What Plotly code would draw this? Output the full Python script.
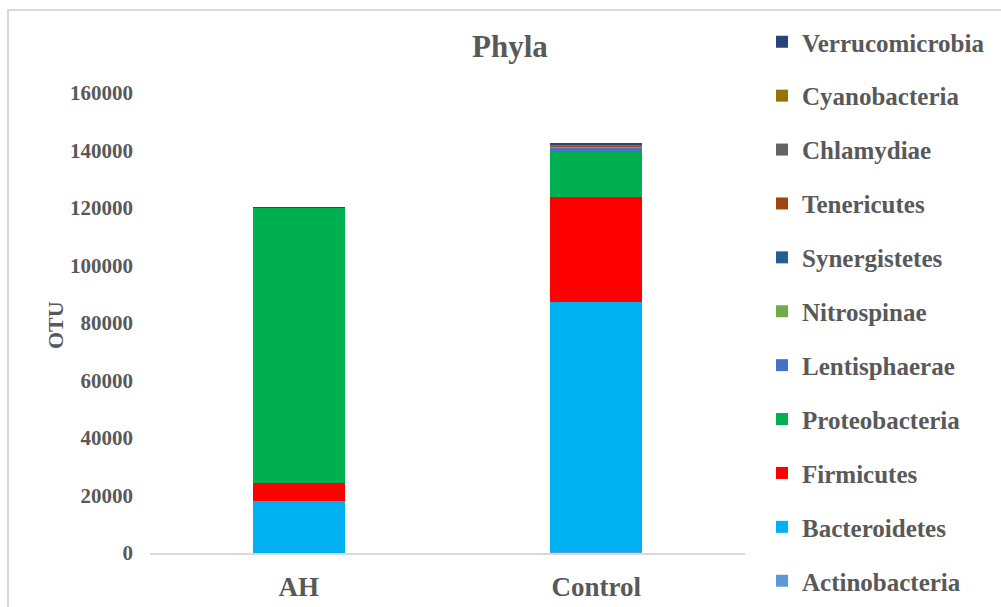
import plotly.graph_objects as go

# Sample groups on the x axis
groups = ["AH", "Control"]

# Phyla stacked from the bottom of each bar upwards
phyla = [
    "Actinobacteria", "Bacteroidetes", "Firmicutes", "Proteobacteria",
    "Lentisphaerae", "Nitrospinae", "Synergistetes", "Tenericutes",
    "Chlamydiae", "Cyanobacteria", "Verrucomicrobia",
]

# OTU counts per phylum: [AH, Control]
actinobacteria = [150, 500]
bacteroidetes = [18050, 86800]
firmicutes = [6300, 36500]
proteobacteria = [95500, 15700]
lentisphaerae = [60, 1600]
nitrospinae = [10, 150]
synergistetes = [20, 300]
tenericutes = [10, 150]
chlamydiae = [10, 200]
cyanobacteria = [10, 100]
verrucomicrobia = [20, 500]

values = [
    actinobacteria, bacteroidetes, firmicutes, proteobacteria,
    lentisphaerae, nitrospinae, synergistetes, tenericutes,
    chlamydiae, cyanobacteria, verrucomicrobia,
]

colors = [
    "#5B9BD5", "#00B0F0", "#FF0000", "#00B050",
    "#4472C4", "#70AD47", "#255E91", "#9E480E",
    "#636363", "#997300", "#264478",
]

TEXT = "#595959"
FONT = "Times New Roman, Liberation Serif, serif"

fig = go.Figure()
n = len(phyla)
for i, (name, vals, col) in enumerate(zip(phyla, values, colors)):
    fig.add_trace(go.Bar(
        x=groups, y=vals, name=name, legendgroup=name,
        legendrank=n - i,
        marker=dict(color=col, line=dict(width=0)),
        width=0.31,
    ))

# plot area in pixels: x 150..745, y 93..553
L, R, T, B = 150, 256, 93, 54
W, H = 1001, 607
pw, ph = W - L - R, H - T - B

def px(x):
    return (x - L) / pw

def py(y):
    return (H - B - y) / ph

fig.update_layout(
    width=W, height=H,
    margin=dict(l=L, r=R, t=T, b=B, pad=0, autoexpand=False),
    barmode="stack",
    plot_bgcolor="white",
    paper_bgcolor="white",
    font=dict(family=FONT, color=TEXT),
    showlegend=True,
    legend=dict(
        x=px(762), y=py(19), xanchor="left", yanchor="top",
        traceorder="grouped",
        tracegroupgap=18.4,
        maxheight=600,
        font=dict(family=FONT, size=25, color=TEXT, weight="bold"),
        itemclick=False,
        bgcolor="rgba(0,0,0,0)",
    ),
    xaxis=dict(
        automargin=False,
        showgrid=False, zeroline=False,
        showline=True, linecolor="#D9D9D9", linewidth=2,
        tickfont=dict(family=FONT, size=27, color=TEXT, weight="bold"),
        ticks="", ticklabelstandoff=9,
    ),
    yaxis=dict(
        automargin=False,
        range=[0, 160000],
        tickvals=[0, 20000, 40000, 60000, 80000, 100000, 120000, 140000, 160000],
        ticktext=["0", "20000", "40000", "60000", "80000", "100000",
                  "120000", "140000", "160000"],
        showgrid=False, zeroline=False, showline=False,
        tickfont=dict(family=FONT, size=21, color=TEXT, weight="bold"),
        ticks="", ticklabelstandoff=16,
    ),
    annotations=[
        dict(text="Phyla", x=px(510), y=py(47), xref="paper", yref="paper",
             showarrow=False, xanchor="center", yanchor="middle",
             font=dict(family=FONT, size=31, color=TEXT, weight="bold")),
        dict(text="OTU", x=px(55), y=py(325), xref="paper", yref="paper",
             showarrow=False, xanchor="center", yanchor="middle", textangle=-90,
             font=dict(family=FONT, size=22, color=TEXT, weight="bold")),
    ],
    shapes=[
        dict(type="rect", xref="paper", yref="paper",
             x0=px(8), x1=px(1010), y0=py(620), y1=py(10),
             line=dict(color="#D9D9D9", width=2), layer="below"),
    ],
)

fig.write_html("out.html")
